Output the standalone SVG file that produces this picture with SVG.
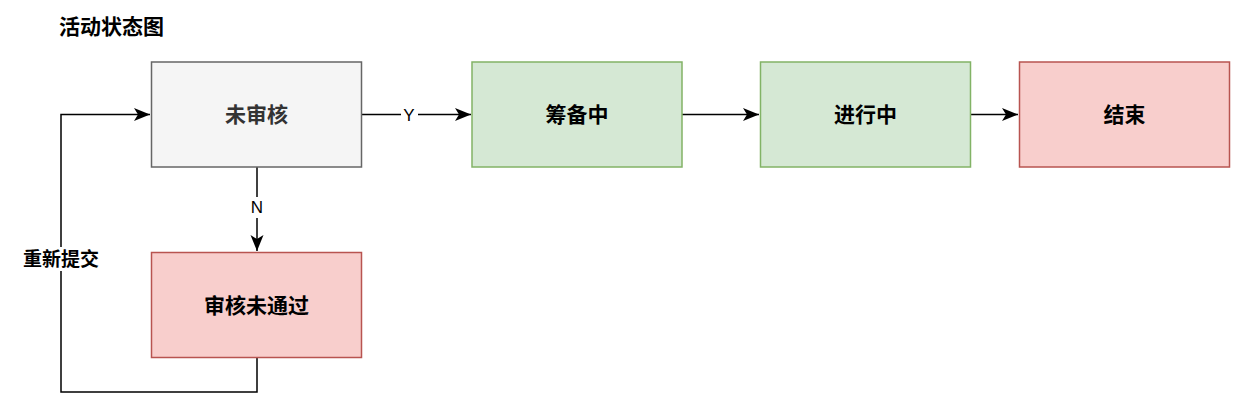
<svg xmlns="http://www.w3.org/2000/svg" width="1253" height="410" viewBox="0 0 1253 410">
<style>
.t{font-family:"Liberation Sans","Noto Sans CJK SC",sans-serif;font-weight:bold;font-size:21px;text-anchor:middle;dominant-baseline:central}
.lbl{font-family:"Liberation Sans","Noto Sans CJK SC",sans-serif;font-size:17px;text-anchor:middle;dominant-baseline:central;fill:#000}
.e{fill:none;stroke:#000;stroke-width:1.5}
.gray{fill:#f5f5f5;stroke:#666;stroke-width:1.5}
.green{fill:#d5e8d4;stroke:#82b366;stroke-width:1.5}
.red{fill:#f8cecc;stroke:#b85450;stroke-width:1.5}
</style>
<defs>
<marker id="arr" markerUnits="userSpaceOnUse" markerWidth="20" markerHeight="20" refX="18" refY="10" orient="auto">
<path d="M2,3.5 L18,10 L2,16.5 L6,10 Z" fill="#000"/>
</marker>
</defs>
<rect width="1253" height="410" fill="#fff"/>
<text x="59" y="26" class="t" style="text-anchor:start;font-size:21px">活动状态图</text>
<g id="connectors">
<path class="e" d="M362,114.5 L471,114.5" marker-end="url(#arr)"/>
<rect x="401" y="104" width="17" height="21" fill="#fff"/>
<text x="409" y="115" class="lbl">Y</text>
<path class="e" d="M682,114.5 L759,114.5" marker-end="url(#arr)"/>
<path class="e" d="M970,114.5 L1018,114.5" marker-end="url(#arr)"/>
<path class="e" d="M257,167 L257,251" marker-end="url(#arr)"/>
<rect x="249" y="197" width="17" height="21" fill="#fff"/>
<text x="257" y="207" class="lbl">N</text>
<path class="e" d="M257,357 L257,392 L61,392 L61,114.5 L150,114.5" marker-end="url(#arr)"/>
<rect x="21" y="247" width="80" height="24" fill="#fff"/>
<text x="61" y="259" class="t" style="font-size:19px">重新提交</text>
</g>
<g id="n1"><rect x="151.5" y="62" width="210" height="105" class="gray"/><text x="256.5" y="114.5" class="t" fill="#333">未审核</text></g>
<g id="n2"><rect x="472" y="62" width="210" height="105" class="green"/><text x="577" y="114.5" class="t">筹备中</text></g>
<g id="n3"><rect x="760.5" y="62" width="210" height="105" class="green"/><text x="865.5" y="114.5" class="t">进行中</text></g>
<g id="n4"><rect x="1019.5" y="62" width="210" height="105" class="red"/><text x="1124.5" y="114.5" class="t">结束</text></g>
<g id="n5"><rect x="151.5" y="252.5" width="210" height="105" class="red"/><text x="256.5" y="305" class="t">审核未通过</text></g>
</svg>
